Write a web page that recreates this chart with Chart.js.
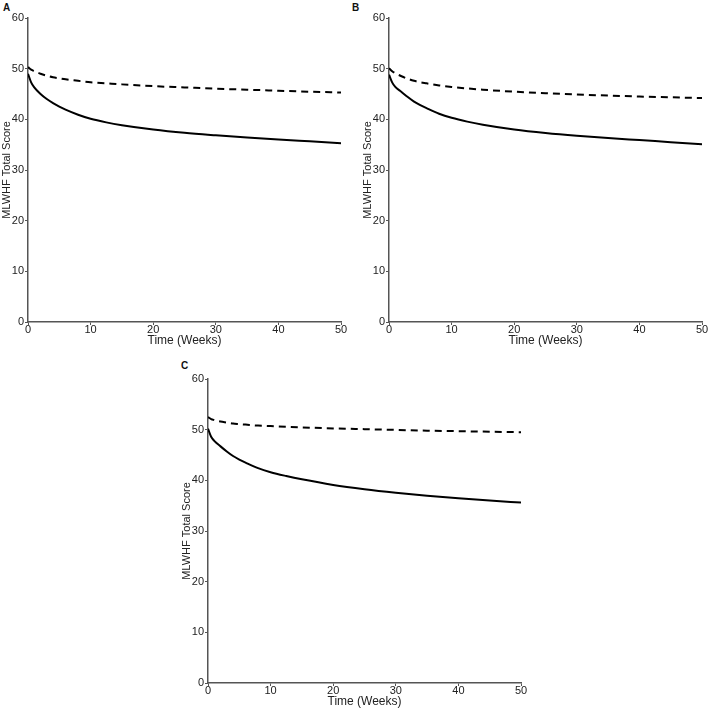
<!DOCTYPE html>
<html>
<head>
<meta charset="utf-8">
<script src="https://cdn.jsdelivr.net/npm/chart.js@4.4.0/dist/chart.umd.min.js"></script>
<style>
  html, body { margin: 0; padding: 0; background: #fff; }
  body { width: 709px; height: 709px; position: relative; overflow: hidden; font-family: "Liberation Sans", Arial, sans-serif; }
  .panel { position: absolute; width: 348px; height: 348px; }
  .label { position: absolute; font-weight: bold; font-size: 10px; color: #111; }
</style>
</head>
<body>
<div class="label" style="left:3px; top:2px;">A</div>
<div class="label" style="left:352px; top:2px;">B</div>
<div class="label" style="left:181px; top:360px;">C</div>
<div class="panel" style="left:0px; top:0px;"><canvas id="chartA"></canvas></div>
<div class="panel" style="left:361px; top:0px;"><canvas id="chartB"></canvas></div>
<div class="panel" style="left:180px; top:361px;"><canvas id="chartC"></canvas></div>
<script>
// time points (weeks)
const weeks = [0, 0.5, 1, 2, 3, 4, 5, 6, 8, 10, 12.5, 15, 20, 25, 30, 35, 40, 45, 50]

// panel A
const solidA = [49.0, 47.3, 46.3, 45.0, 44.0, 43.2, 42.5, 41.9, 40.9, 40.1, 39.4, 38.85, 38.0, 37.35, 36.85, 36.4, 36.0, 35.65, 35.3]
const dashedA = [50.3, 49.8, 49.5, 49.0, 48.6, 48.3, 48.1, 47.9, 47.6, 47.3, 47.1, 46.9, 46.55, 46.3, 46.05, 45.85, 45.65, 45.45, 45.3]

// panel B
const solidB = [48.8, 47.3, 46.4, 45.4, 44.4, 43.5, 42.8, 42.2, 41.1, 40.3, 39.55, 38.95, 38.0, 37.3, 36.75, 36.3, 35.9, 35.5, 35.1]
const dashedB = [50.1, 49.5, 49.1, 48.5, 48.0, 47.6, 47.3, 47.1, 46.7, 46.4, 46.1, 45.85, 45.45, 45.15, 44.9, 44.7, 44.5, 44.35, 44.2]

// panel C
const solidC = [50.2, 48.6, 47.8, 46.7, 45.7, 44.8, 44.1, 43.5, 42.4, 41.6, 40.85, 40.2, 39.1, 38.25, 37.55, 36.95, 36.45, 36.0, 35.6]
const dashedC = [52.5, 52.1, 51.9, 51.6, 51.4, 51.2, 51.1, 51.0, 50.8, 50.7, 50.55, 50.45, 50.25, 50.1, 49.95, 49.8, 49.7, 49.6, 49.5]

const xTicks = [0, 10, 20, 30, 40, 50]
const yTicks = [0, 10, 20, 30, 40, 50, 60]

const axisColor = '#555'
const textColor = '#222'
const font = { family: '"Liberation Sans", Arial, sans-serif', size: 11 }

function points(values) {
  return weeks.map((w, i) => ({ x: w, y: values[i] }))
}

function makeChart(id, solid, dashed) {
  const canvas = document.getElementById(id)
  return new Chart(canvas, {
    type: 'line',
    data: {
      datasets: [
        {
          label: 'solid',
          data: points(solid),
          borderColor: '#000',
          borderWidth: 2,
          pointRadius: 0,
          cubicInterpolationMode: 'monotone'
        },
        {
          label: 'dashed',
          data: points(dashed),
          borderColor: '#000',
          borderWidth: 2,
          borderDash: [7, 5],
          pointRadius: 0,
          cubicInterpolationMode: 'monotone'
        }
      ]
    },
    options: {
      animation: false,
      responsive: true,
      maintainAspectRatio: false,
      layout: { padding: { top: 18, right: 7, left: 0, bottom: 0 } },
      plugins: { legend: { display: false }, tooltip: { enabled: false } },
      scales: {
        x: {
          type: 'linear',
          min: 0,
          max: 50,
          afterBuildTicks: s => { s.ticks = xTicks.map(v => ({ value: v })) },
          afterFit: s => { s.height = 26 },
          grid: { drawOnChartArea: false, tickLength: 3, color: axisColor, lineWidth: 1 },
          border: { color: axisColor, width: 1.5 },
          ticks: { color: textColor, font, padding: -2, maxRotation: 0 },
          title: { display: true, text: 'Time (Weeks)', color: textColor, font: { ...font, size: 12 }, padding: 0 }
        },
        y: {
          min: 0,
          max: 60,
          afterBuildTicks: s => { s.ticks = yTicks.map(v => ({ value: v })) },
          afterFit: s => { s.width = 28 },
          grid: { drawOnChartArea: false, tickLength: 3, color: axisColor, lineWidth: 1 },
          border: { color: axisColor, width: 1.5 },
          ticks: { color: textColor, font, padding: 1 },
          title: { display: true, text: 'MLWHF Total Score', color: textColor, font: { ...font, size: 11 }, padding: 0 }
        }
      }
    }
  })
}

makeChart('chartA', solidA, dashedA)
makeChart('chartB', solidB, dashedB)
makeChart('chartC', solidC, dashedC)
</script>
</body>
</html>
